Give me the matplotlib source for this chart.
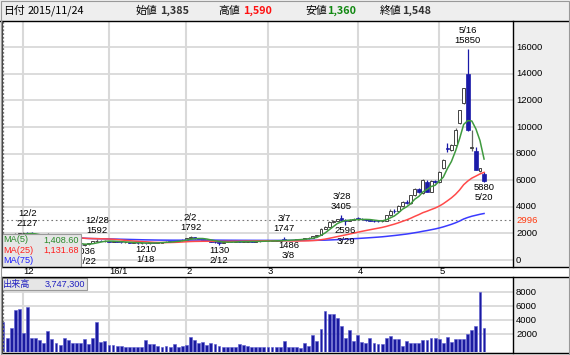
import matplotlib
matplotlib.use("Agg")
import matplotlib.pyplot as plt
import matplotlib.transforms as mtransforms
from matplotlib.patches import Rectangle
from matplotlib.lines import Line2D
import numpy as np
import pandas as pd

# ---------------- data ----------------
holidays = ["2015-11-23", "2015-12-23", "2015-12-31", "2016-01-01", "2016-01-11",
            "2016-02-11", "2016-03-21", "2016-04-29", "2016-05-03", "2016-05-04", "2016-05-05"]
dates = pd.bdate_range("2015-11-24", "2016-05-20", freq="C", holidays=holidays)

opens = [1385, 1560, 1730, 1870, 1960, 2010, 2060, 1990, 1940, 1830,
         1730, 1650, 1870, 1740, 1590, 1490, 1390, 1300, 1230, 1160,
         1100, 1170, 1290, 1400, 1460, 1430, 1440, 1380, 1400, 1360,
         1320, 1340, 1290, 1310, 1260, 1270, 1250, 1320, 1290, 1310,
         1360, 1380, 1370, 1440, 1480, 1540, 1650, 1700, 1620, 1580,
         1520, 1460, 1380, 1320, 1300, 1350, 1380, 1360, 1400, 1380,
         1390, 1400, 1390, 1410, 1420, 1430, 1440, 1450, 1460, 1560,
         1500, 1510, 1530, 1550, 1580, 1620, 1680, 1780, 1860, 2350,
         2480, 2880, 2950, 3150, 3000, 2950, 3020, 3120, 3100, 3050,
         2980, 2950, 2920, 2900, 2960, 3350, 3700, 3650, 4050, 4350,
         4250, 4850, 5350, 5050, 5900, 5150, 5950, 5850, 6900, 8400,
         8250, 8650, 10300, 11800, 14000, 8400, 8200, 6700, 6500]
highs = [1590, 1760, 1900, 2010, 2060, 2090, 2127, 2070, 1970, 1860,
         1760, 2010, 1900, 1760, 1610, 1510, 1420, 1330, 1260, 1190,
         1190, 1310, 1420, 1592, 1490, 1470, 1460, 1420, 1430, 1380,
         1360, 1350, 1330, 1320, 1290, 1280, 1330, 1340, 1330, 1370,
         1400, 1420, 1450, 1500, 1560, 1680, 1792, 1720, 1650, 1600,
         1540, 1480, 1400, 1340, 1360, 1400, 1400, 1420, 1420, 1400,
         1420, 1430, 1420, 1440, 1450, 1460, 1470, 1480, 1500, 1747,
         1530, 1540, 1560, 1600, 1640, 1700, 1800, 1880, 2380, 2550,
         2930, 3000, 3100, 3405, 3100, 3050, 3150, 3200, 3150, 3080,
         3050, 3000, 2980, 2980, 3380, 3800, 3800, 4100, 4400, 4500,
         4900, 5400, 5400, 6100, 6000, 6000, 6050, 6700, 7600, 8800,
         8700, 9900, 11300, 12950, 15850, 9800, 8520, 6950, 6600]
lows = [1360, 1520, 1680, 1820, 1900, 1940, 1960, 1920, 1800, 1700,
        1600, 1640, 1720, 1580, 1460, 1360, 1280, 1200, 1130, 1070,
        1036, 1160, 1270, 1390, 1400, 1390, 1360, 1350, 1340, 1300,
        1290, 1270, 1260, 1240, 1230, 1210, 1240, 1270, 1260, 1300,
        1340, 1350, 1360, 1420, 1460, 1520, 1620, 1600, 1560, 1500,
        1440, 1360, 1300, 1130, 1280, 1330, 1340, 1350, 1360, 1350,
        1370, 1370, 1370, 1390, 1400, 1410, 1420, 1430, 1440, 1480,
        1486, 1490, 1510, 1530, 1560, 1600, 1660, 1760, 1850, 2300,
        2450, 2800, 2900, 2950, 2596, 2900, 3000, 3050, 3000, 2950,
        2900, 2880, 2860, 2880, 2940, 3300, 3550, 3600, 3950, 4200,
        4200, 4800, 5050, 5000, 5100, 5100, 5800, 5800, 6850, 8100,
        8200, 8600, 10200, 11750, 9700, 8200, 6750, 6600, 5880]
closes = [1548, 1720, 1860, 1960, 2010, 2040, 1990, 1950, 1830, 1730,
          1640, 1880, 1740, 1600, 1490, 1390, 1300, 1230, 1160, 1100,
          1170, 1290, 1400, 1460, 1430, 1440, 1380, 1400, 1360, 1320,
          1340, 1290, 1310, 1260, 1270, 1250, 1320, 1290, 1310, 1360,
          1380, 1370, 1440, 1480, 1540, 1650, 1700, 1620, 1580, 1520,
          1460, 1380, 1320, 1290, 1350, 1380, 1360, 1400, 1380, 1390,
          1400, 1390, 1410, 1420, 1430, 1440, 1450, 1460, 1480, 1500,
          1510, 1530, 1550, 1580, 1620, 1680, 1780, 1860, 2350, 2480,
          2880, 2950, 3050, 3000, 2950, 3020, 3120, 3100, 3050, 2980,
          2950, 2920, 2900, 2960, 3350, 3700, 3650, 4050, 4350, 4250,
          4850, 5350, 5100, 6050, 5150, 5950, 5850, 6650, 7550, 8350,
          8650, 9780, 11280, 12900, 9800, 8500, 6800, 6900, 5950]
volumes = [3747, 1395, 2835, 5468, 5660, 2200, 5948, 1395, 1395, 1108,
           763, 2446, 1252, 763, 432, 1395, 1108, 763, 763, 690,
           1252, 640, 1439, 3741, 863, 1000, 432, 432, 288, 288,
           144, 144, 144, 144, 144, 1200, 575, 575, 288, 200,
           288, 200, 575, 200, 288, 432, 1583, 1100, 690, 863,
           380, 690, 575, 288, 200, 200, 100, 200, 575, 380,
           288, 100, 200, 200, 100, 200, 100, 200, 100, 1000,
           190, 100, 190, 50, 720, 290, 1870, 1000, 2780, 5280,
           4890, 4890, 4317, 3166, 1490, 2540, 1055, 1870, 815, 720,
           1390, 720, 625, 625, 1390, 1725, 1340, 1250, 290, 1000,
           760, 670, 720, 1200, 1150, 1390, 1490, 1250, 720, 1580,
           860, 1340, 1290, 1290, 2060, 2540, 3166, 8010, 2880]

month_labels = ["12", "16/1", "2", "3", "4", "5"]
price_ticks = [0, 2000, 4000, 6000, 8000, 10000, 12000, 14000, 16000]
vol_ticks = [2000, 4000, 6000, 8000]
ref_line = 2996
high_marks = [("12/2", 2127), ("12/28", 1592), ("2/2", 1792), ("3/7", 1747),
              ("3/28", 3405), ("5/16", 15850)]
low_marks = [("12/22", 1036), ("1/18", 1210), ("2/12", 1130), ("3/8", 1486),
             ("3/29", 2596), ("5/20", 5880)]
header_date = "2015/11/24"
header_vals = [("始値", "1,385", "#333333"), ("高値", "1,590", "#ff1010"),
               ("安値", "1,360", "#118811"), ("終値", "1,548", "#333333")]
ma_labels = [("MA(5)", "1,408.60", "#2a8a2a"), ("MA(25)", "1,131.68", "#ff2020"),
             ("MA(75)", "", "#2020ff")]
vol_label = ("出来高", "3,747,300")

# ---------------- figure ----------------
W, H = 570, 355
fig = plt.figure(figsize=(W / 100, H / 100), dpi=100, facecolor="#eeeeee")
JP = ["Noto Sans CJK JP", "DejaVu Sans"]
NUM = ["Liberation Sans", "DejaVu Sans"]


def fx(x):
    return x / W


def fy(y):
    return 1 - y / H


def ax_px(x0, y0, x1, y1, **kw):
    return fig.add_axes([fx(x0), fy(y1), (x1 - x0) / W, (y1 - y0) / H], **kw)


def hline_px(y, x0, x1, col="black", lw=1.0, z=12):
    fig.add_artist(Line2D([fx(x0), fx(x1)], [fy(y), fy(y)], transform=fig.transFigure,
                          color=col, lw=lw, zorder=z))


# white strip for month labels
fig.patches.append(Rectangle((fx(0), fy(277)), fx(570), (277 - 267) / H,
                             transform=fig.transFigure, facecolor="white",
                             edgecolor="none", zorder=-5))

o = np.array(opens, float)
h = np.array(highs, float)
l = np.array(lows, float)
c = np.array(closes, float)
v = np.array(volumes, float)
n = len(c)
xi = np.arange(n)
XL = (-0.245, 125.1)

month_idx = []
for m in [12, 1, 2, 3, 4, 5]:
    month_idx.append(int(np.where(dates.month == m)[0][0]))

grid_c = "#d9d9d9"

# ---------------- price panel ----------------
ax = ax_px(2, 21, 513, 267, facecolor="white")
ax.set_xlim(*XL)
ax.set_ylim(-526, 17970)
ax.set_xticks([])
ax.set_yticks([])
for t in price_ticks:
    ax.axhline(t, color=grid_c, lw=1.3, zorder=0)
for mi in month_idx:
    ax.axvline(mi, color=grid_c, lw=1.5, zorder=0)
ax.axhline(ref_line, color="#777777", lw=0.8, ls=(0, (1.5, 2.5)), zorder=1)
ax.axvline(0, color="#777777", lw=0.9, ls=(0, (1.5, 1.5)), zorder=6)

up = c >= o
dn = ~up
body_lo = np.minimum(o, c)
body_h = np.maximum(np.abs(c - o), 30)
ax.vlines(xi[up], l[up], h[up], color="#666666", lw=0.9, zorder=2)
ax.vlines(xi[dn], l[dn], h[dn], color="#1a1aa8", lw=0.9, zorder=2)
ax.bar(xi[up], body_h[up], bottom=body_lo[up], width=0.72, facecolor="white",
       edgecolor="#444444", lw=0.7, zorder=3)
ax.bar(xi[dn], body_h[dn], bottom=body_lo[dn], width=0.9, facecolor="#1a1aa8",
       edgecolor="#1a1aa8", lw=0.5, zorder=3)

cs = pd.Series(c)
ma5 = cs.rolling(5, min_periods=1).mean()
ma25 = cs.rolling(25, min_periods=1).mean()
ma75 = cs.rolling(75, min_periods=1).mean()
ax.plot(xi, ma75, color="#3a3aff", lw=1.1, zorder=4)
ax.plot(xi, ma25, color="#ff4a4a", lw=1.1, zorder=4)
ax.plot(xi, ma5, color="#3f9a3f", lw=1.1, zorder=4)

for sp in ax.spines.values():
    sp.set_visible(False)

date_strs = [f"{d.month}/{d.day}" for d in dates]
for lbl, val in high_marks:
    i = date_strs.index(lbl)
    ax.annotate(f"{lbl}\n{val}", xy=(i, val), xytext=(0, 4), textcoords="offset pixels",
                ha="center", va="bottom", fontsize=6.8, family=NUM, linespacing=1.15,
                zorder=7)
for lbl, val in low_marks:
    i = date_strs.index(lbl)
    ax.annotate(f"{val}\n{lbl}", xy=(i, val), xytext=(0, -1), textcoords="offset pixels",
                ha="center", va="top", fontsize=6.8, family=NUM, linespacing=1.15,
                zorder=7)

tr = mtransforms.blended_transform_factory(ax.transAxes, ax.transData)
for t in price_ticks:
    ax.text(1 + 3 / 511, t, str(t), transform=tr, ha="left", va="center",
            fontsize=6.8, family=NUM, clip_on=False)
ax.text(1 + 3 / 511, ref_line, str(ref_line), transform=tr, ha="left", va="center",
        fontsize=6.8, family=NUM, color="#ff3a10", clip_on=False)

# ---------------- volume panel ----------------
axv = ax_px(2, 277, 513, 352, facecolor="white")
axv.set_xlim(*XL)
VB = -576
axv.set_ylim(VB, 10217)
axv.set_xticks([])
axv.set_yticks([])
for t in vol_ticks:
    axv.axhline(t, color=grid_c, lw=1.3, zorder=0)
for mi in month_idx:
    axv.axvline(mi, color=grid_c, lw=1.5, zorder=0)
axv.axvline(0, color="#777777", lw=0.9, ls=(0, (1.5, 1.5)), zorder=6)
axv.bar(xi, v - VB, bottom=VB, width=0.7, facecolor="#1a1aa0", edgecolor="#5a5ad0",
        lw=0.4, zorder=3)
for sp in axv.spines.values():
    sp.set_visible(False)
trv = mtransforms.blended_transform_factory(axv.transAxes, axv.transData)
for t in vol_ticks:
    axv.text(1 + 3 / 511, t, str(t), transform=trv, ha="left", va="center",
             fontsize=6.8, family=NUM, clip_on=False)

# month labels (in the strip between panels)
trm = mtransforms.blended_transform_factory(ax.transData, fig.transFigure)
for mi, lab in zip(month_idx, month_labels):
    t = fig.text(0, fy(272), lab, transform=trm, ha="left", va="center", fontsize=6.8,
                 family=NUM, zorder=13)
    t.set_x(mi)

# ---------------- frame lines ----------------
hline_px(21, 0, 570)
hline_px(267, 2, 570)
hline_px(277, 2, 570)
hline_px(352.5, 2, 570)
for (y0, y1) in [(21, 267), (277, 352.5)]:
    fig.add_artist(Line2D([fx(513), fx(513)], [fy(y0), fy(y1)], transform=fig.transFigure,
                          color="black", lw=1.0, zorder=12))
    fig.add_artist(Line2D([fx(2), fx(2)], [fy(y0), fy(y1)], transform=fig.transFigure,
                          color="#444444", lw=0.8, zorder=12))

# ---------------- legend boxes ----------------
fig.patches.append(Rectangle((fx(2), fy(267)), fx(81) - fx(2), (267 - 234) / H,
                             transform=fig.transFigure, facecolor="#e6e6e6",
                             edgecolor="#9a9a9a", lw=0.8, zorder=10))
for k, (name, val, col) in enumerate(ma_labels):
    yy = 240 + k * 10.3
    fig.text(fx(3), fy(yy), name, color=col, fontsize=6.6, family=NUM, va="center",
             ha="left", zorder=11)
    if val:
        fig.text(fx(79), fy(yy), val, color=col, fontsize=6.6, family=NUM, va="center",
                 ha="right", zorder=11)

fig.patches.append(Rectangle((fx(2), fy(290)), fx(87) - fx(2), (290 - 278) / H,
                             transform=fig.transFigure, facecolor="#e6e6e6",
                             edgecolor="#9a9a9a", lw=0.8, zorder=10))
fig.text(fx(3), fy(284), vol_label[0], color="#2020c0", fontsize=6.6, family=JP,
         va="center", ha="left", zorder=11)
fig.text(fx(85), fy(284), vol_label[1], color="#2020c0", fontsize=6.6, family=NUM,
         va="center", ha="right", zorder=11)

# ---------------- header ----------------
fig.text(fx(3), fy(11), "日付", fontsize=7.8, family=JP, va="center", ha="left")
fig.text(fx(28), fy(11), header_date, fontsize=7.8, family=JP, va="center", ha="left")
hx = [(135, 160), (218, 243), (305, 327), (380, 402)]
for (lx, vx), (lab, val, col) in zip(hx, header_vals):
    fig.text(fx(lx), fy(11), lab, fontsize=7.8, family=JP, va="center", ha="left")
    fig.text(fx(vx), fy(11), val, fontsize=7.8, family=JP, va="center", ha="left",
             color=col, fontweight="bold")

# outer border
fig.patches.append(Rectangle((fx(0.5), fy(354.5)), fx(569) - fx(0.5), 354 / H,
                             transform=fig.transFigure, facecolor="none",
                             edgecolor="#999999", lw=0.8, zorder=12))

fig.savefig("out.png", dpi=100, facecolor=fig.get_facecolor())
